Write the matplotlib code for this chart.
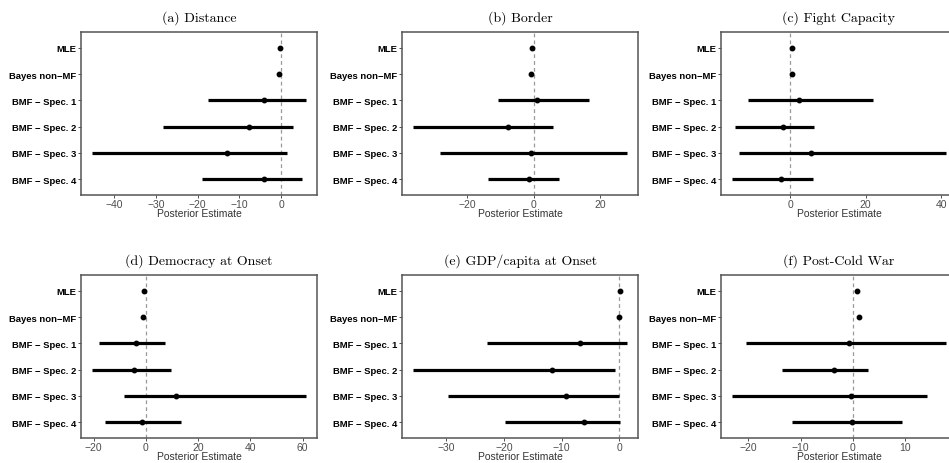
import numpy as np
import matplotlib
matplotlib.use("Agg")
import matplotlib.pyplot as plt

models = ["MLE", "Bayes non\u2212MF", "BMF \u2212 Spec. 1", "BMF \u2212 Spec. 2",
          "BMF \u2212 Spec. 3", "BMF \u2212 Spec. 4"]

titles = ["(a) Distance", "(b) Border", "(c) Fight Capacity",
          "(d) Democracy at Onset", "(e) GDP/capita at Onset", "(f) Post-Cold War"]

# point estimates per panel (MLE, Bayes non-MF, Spec 1..4)
est_a = [-0.4, -0.6, -4.1, -7.8, -13.1, -4.1]
est_b = [-0.5, -0.8, 1.0, -7.9, -0.8, -1.4]
est_c = [0.35, 0.45, 2.3, -2.0, 5.5, -2.4]
est_d = [-0.8, -1.0, -3.8, -4.7, 11.7, -1.5]
est_e = [0.1, 0.05, -6.8, -11.6, -9.3, -6.1]
est_f = [0.77, 1.1, -0.7, -3.6, -0.26, -0.13]

# interval bounds (only for the BMF specs; MLE/Bayes have none drawn)
lo_a = [np.nan, np.nan, -17.5, -28.3, -45.4, -18.9]
hi_a = [np.nan, np.nan, 6.0, 2.8, 1.3, 4.9]
lo_b = [np.nan, np.nan, -10.7, -36.4, -28.1, -13.8]
hi_b = [np.nan, np.nan, 16.5, 5.7, 28.1, 7.7]
lo_c = [np.nan, np.nan, -11.2, -14.7, -13.8, -15.6]
hi_c = [np.nan, np.nan, 21.9, 6.2, 41.4, 6.0]
lo_d = [np.nan, np.nan, -18.1, -20.7, -8.2, -15.7]
hi_d = [np.nan, np.nan, 7.4, 9.8, 61.4, 13.3]
lo_e = [np.nan, np.nan, -23.0, -35.8, -29.6, -19.8]
hi_e = [np.nan, np.nan, 1.4, -0.75, 0.0, 0.1]
lo_f = [np.nan, np.nan, -20.5, -13.5, -23.2, -11.7]
hi_f = [np.nan, np.nan, 17.9, 3.0, 14.2, 9.4]

ticks = [[-40, -30, -20, -10, 0], [-20, 0, 20], [0, 20, 40],
         [-20, 0, 20, 40, 60], [-30, -20, -10, 0], [-20, -10, 0, 10]]

panels = [(est_a, lo_a, hi_a), (est_b, lo_b, hi_b), (est_c, lo_c, hi_c),
          (est_d, lo_d, hi_d), (est_e, lo_e, hi_e), (est_f, lo_f, hi_f)]

W, H = 949, 464
fig = plt.figure(figsize=(W / 100, H / 100), dpi=100)

lefts = [81, 402, 721]
width = 236
tops = [33, 276]
height = 163

ypos = np.arange(len(models))[::-1] + 1

for k, (est, lo, hi) in enumerate(panels):
    r, c = divmod(k, 3)
    ax = fig.add_axes([lefts[c] / W, 1 - (tops[r] + height) / H, width / W, height / H])
    est = np.array(est)
    lo = np.array(lo)
    hi = np.array(hi)
    ax.axvline(0, color="#999999", ls=(0, (3, 2.5)), lw=0.9, zorder=1)
    ax.hlines(ypos, lo, hi, color="black", lw=2.3, zorder=2)
    ax.plot(est, ypos, "o", color="black", ms=3.2, zorder=3)

    allv = np.concatenate([est, lo[~np.isnan(lo)], hi[~np.isnan(hi)]])
    span = allv.max() - allv.min()
    ax.set_xlim(allv.min() - 0.05 * span, allv.max() + 0.05 * span)
    ax.set_ylim(0.4, 6.6)
    ax.set_yticks(ypos)
    ax.set_yticklabels(models, fontweight="bold", fontfamily="Liberation Sans", fontsize=6.8)
    ax.set_xticks(ticks[k])
    ax.set_xticklabels([str(t).replace("-", "\u2212") for t in ticks[k]],
                       fontfamily="Liberation Sans", fontsize=7.5, color="#4d4d4d")
    ax.tick_params(axis="both", length=2, width=0.6, color="#333333", pad=1.2)
    ax.set_xlabel("Posterior Estimate", fontfamily="Liberation Sans", fontsize=7.5,
                  color="#333333", labelpad=-1)
    for s in ax.spines.values():
        s.set_color("#555555")
        s.set_linewidth(1.1)
    ax.set_title(titles[k], fontfamily="cmr10", fontsize=10, pad=8)

fig.savefig("out.png", dpi=100)
